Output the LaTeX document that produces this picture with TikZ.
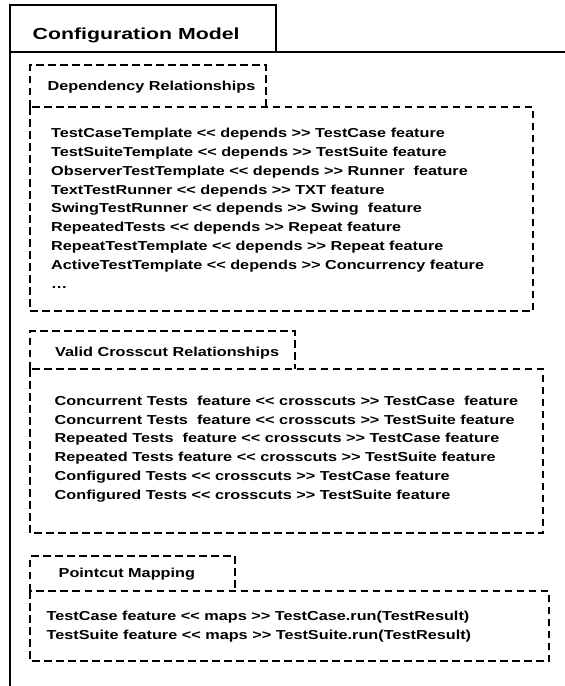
\documentclass[tikz,border=0pt]{standalone}
\usepackage{fontspec}
\setmainfont{Liberation Sans}[Ligatures=TeXOff]
\newfontfamily\boxfont{Liberation Sans}[Ligatures=TeXOff, FakeStretch=1.25]
\newfontfamily\modelfont{Liberation Sans}[Ligatures=TeXOff, FakeStretch=1.33]
\usetikzlibrary{positioning}
\tikzset{pkgline/.style={draw, line width=2.8pt}}
\tikzset{dbox/.style={draw, line width=2pt, dash pattern=on 7.5pt off 4.5pt}}
\tikzset{dtitle/.style={anchor=base west, inner sep=0pt, font=\boxfont\bfseries\fontsize{13}{15}\selectfont}}
\tikzset{dline/.style={anchor=base west, inner sep=0pt, font=\boxfont\bfseries\fontsize{13}{15}\selectfont}}

\begin{document}
\begin{tikzpicture}[x=1pt, y=-1pt]
    \useasboundingbox (0,0) rectangle (565,686);
    % package frame
    \draw[pkgline] (10,686) -- (10,5) -- (276,5) -- (276,52);
    \draw[pkgline] (10,52) -- (565,52);
    \node[dtitle, font=\modelfont\bfseries\fontsize{16}{18}\selectfont] (model) at (32.5,39) {Configuration Model};

    % dependencies
    \draw[dbox] (30,107) -- (30,65) -- (266,65) -- (266,107);
    \draw[dbox] (30,107) rectangle (533,311);
    \node[dtitle] (deptitle) at (47.5,90) {Dependency Relationships};
    \foreach \txt [count=\i] in {
        TestCaseTemplate << depends >> TestCase feature,
        TestSuiteTemplate << depends >> TestSuite feature,
        ObserverTestTemplate << depends >> Runner\ \ feature,
        TextTestRunner << depends >> TXT feature,
        SwingTestRunner << depends >> Swing\ \ feature,
        RepeatedTests << depends >> Repeat feature,
        RepeatTestTemplate << depends >> Repeat feature,
        ActiveTestTemplate << depends >> Concurrency feature,
        …}
        \node[dline] (dep\i) at (51,{137.3+18.9*(\i-1)}) {\txt};

    % crosscuts
    \draw[dbox] (30,369) -- (30,331) -- (295,331) -- (295,369);
    \draw[dbox] (30,369) rectangle (543,533);
    \node[dtitle] (cuttitle) at (55,356) {Valid Crosscut Relationships};
    \foreach \txt [count=\i] in {
        Concurrent Tests\ \ feature << crosscuts >> TestCase\ \ feature,
        Concurrent Tests\ \ feature << crosscuts >> TestSuite feature,
        Repeated Tests\ \ feature << crosscuts >> TestCase feature,
        Repeated Tests feature << crosscuts >> TestSuite feature,
        Configured Tests << crosscuts >> TestCase feature,
        Configured Tests << crosscuts >> TestSuite feature}
        \node[dline] (cut\i) at (54.5,{405.3+18.8*(\i-1)}) {\txt};

    % pointcuts
    \draw[dbox] (30,591) -- (30,556) -- (235,556) -- (235,591);
    \draw[dbox] (30,591) rectangle (549,661);
    \node[dtitle] (maptitle) at (58.5,577) {Pointcut Mapping};
    \node[dline] (map1) at (46.5,620) {TestCase feature << maps >> TestCase.run(TestResult)};
    \node[dline] (map2) at (46.5,639.5) {TestSuite feature << maps >> TestSuite.run(TestResult)};
\end{tikzpicture}
\end{document}
